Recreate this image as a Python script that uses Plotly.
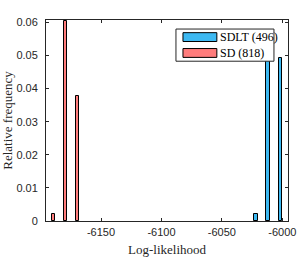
import plotly.graph_objects as go

# Data
sd_centers = [-6189.3, -6179.2, -6169.3]
sd_freq = [0.002, 0.0603, 0.0378]
sdlt_centers = [-6021.7, -6011.7, -6001.5]
sdlt_freq = [0.002, 0.0488, 0.0491]
bin_width = 2.8
series_names = ["SDLT (496)", "SD (818)"]
x_ticks = [-6150, -6100, -6050, -6000]
y_ticks = [0, 0.01, 0.02, 0.03, 0.04, 0.05, 0.06]
y_tick_labels = ["0", "0.01", "0.02", "0.03", "0.04", "0.05", "0.06"]

blue = "#3DB9F2"
red = "#FF7C7C"
axis_col = "#262626"

fig = go.Figure()
fig.add_trace(go.Bar(x=sd_centers, y=sd_freq, width=bin_width, name=series_names[1],
                     marker=dict(color=red, line=dict(color="black", width=1)), showlegend=False))
fig.add_trace(go.Bar(x=sdlt_centers, y=sdlt_freq, width=bin_width, name=series_names[0],
                     marker=dict(color=blue, line=dict(color="black", width=1)), showlegend=False))

# Custom MATLAB-like legend
lx0, lx1, ly0, ly1 = 0.537, 0.942, 0.795, 0.955
fig.add_shape(type="rect", xref="paper", yref="paper", x0=lx0, x1=lx1, y0=ly0, y1=ly1,
              line=dict(color=axis_col, width=1), fillcolor="white", layer="above")
rows = [(series_names[0], blue, 0.915), (series_names[1], red, 0.836)]
for name, col, yc in rows:
    fig.add_shape(type="rect", xref="paper", yref="paper", x0=0.566, x1=0.706,
                  y0=yc - 0.022, y1=yc + 0.022, line=dict(color="black", width=1),
                  fillcolor=col, layer="above")
    fig.add_annotation(xref="paper", yref="paper", x=0.71, y=yc, text=name, showarrow=False,
                       xanchor="left", yanchor="middle",
                       font=dict(family="Liberation Serif", size=12, color="black"))

fig.update_layout(
    width=299, height=257,
    margin=dict(l=46, r=11, t=20, b=36),
    plot_bgcolor="white", paper_bgcolor="white",
    bargap=0, showlegend=False,
    font=dict(family="Liberation Sans", size=11, color=axis_col),
    xaxis=dict(range=[-6195.5, -5995.3], tickvals=x_ticks, ticktext=[str(v) for v in x_ticks],
               showgrid=False, zeroline=False, showline=True, linecolor=axis_col, linewidth=1,
               mirror="ticks", ticks="inside", ticklen=3, tickcolor=axis_col,
               ticklabelstandoff=1, automargin=False,
               title=dict(text="Log-likelihood", standoff=11,
                          font=dict(family="Liberation Serif", size=13, color=axis_col))),
    yaxis=dict(range=[0, 0.0607], tickvals=y_ticks, ticktext=y_tick_labels,
               showgrid=False, zeroline=False, showline=True, linecolor=axis_col, linewidth=1,
               mirror="ticks", ticks="inside", ticklen=3, tickcolor=axis_col,
               ticklabelstandoff=5, automargin=False,
               title=dict(text="Relative frequency", standoff=10,
                          font=dict(family="Liberation Serif", size=13, color=axis_col))),
)

fig.write_html("out.html", config={"displayModeBar": False},
               post_script="document.body.style.margin='0';")
